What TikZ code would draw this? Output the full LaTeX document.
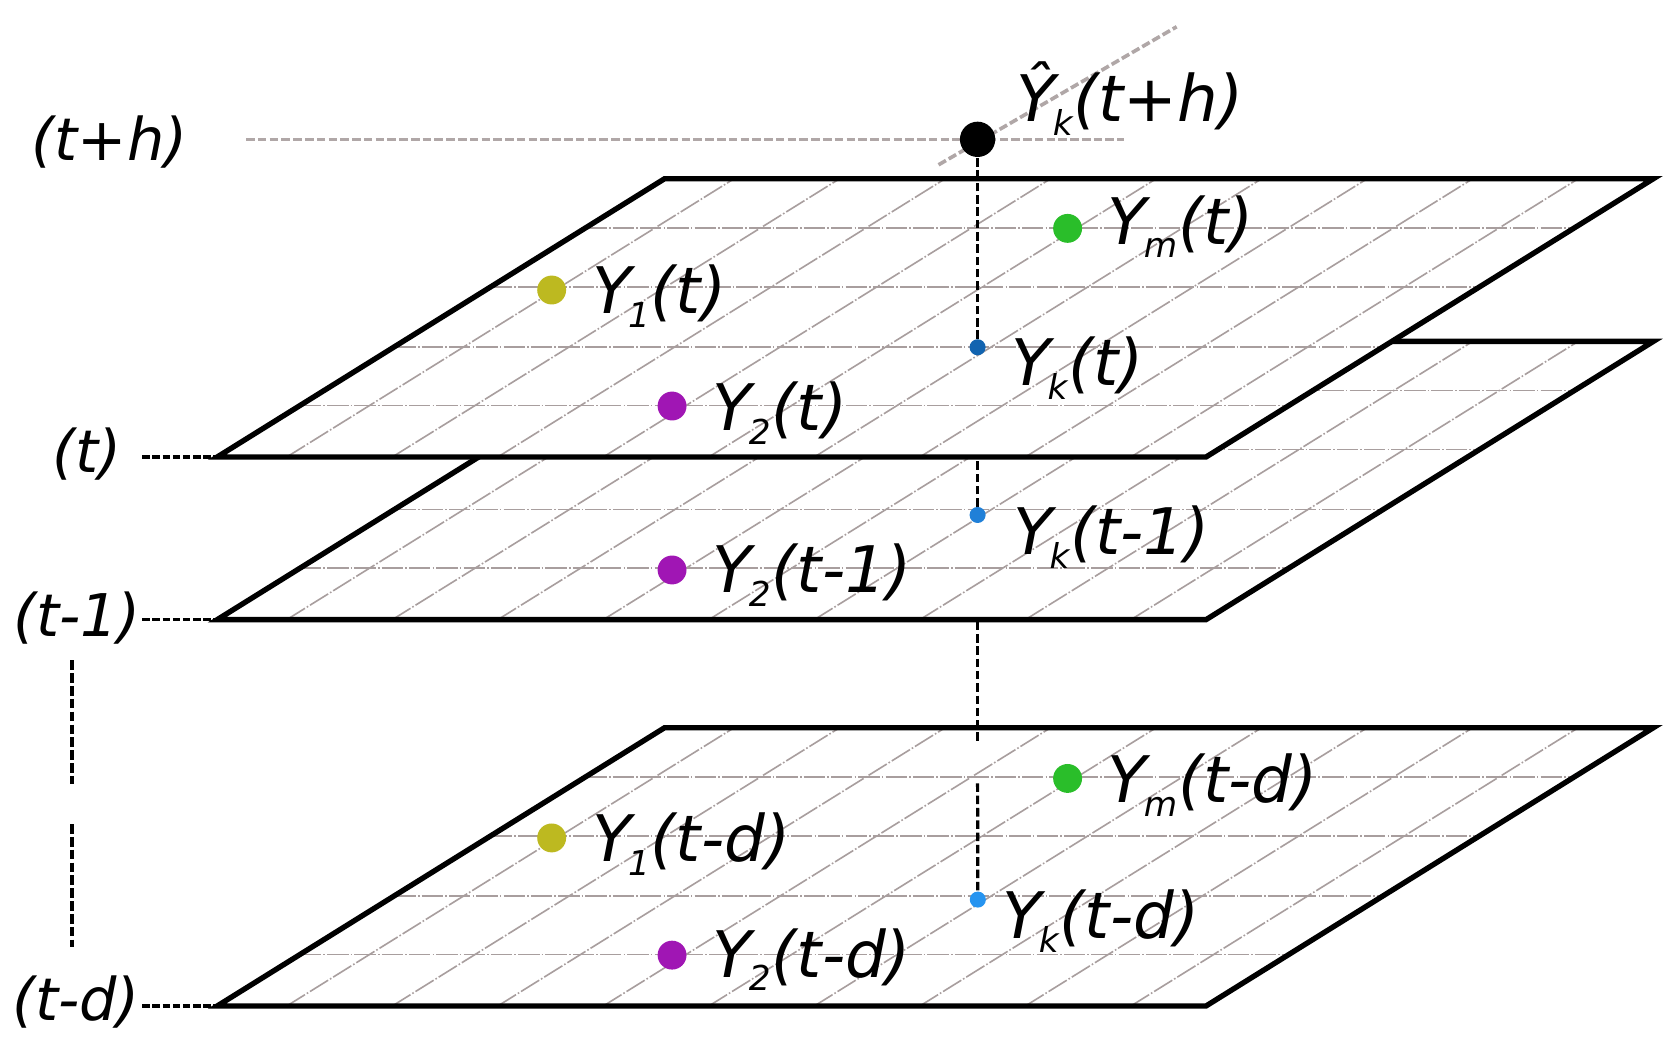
\documentclass[tikz,border=0pt]{standalone}
\usepackage{fontspec}
\setmainfont{DejaVu Sans}[ItalicFont={DejaVu Sans Oblique}]
\definecolor{hatchgray}{HTML}{A89E9E}
\definecolor{dashgray}{HTML}{B0A7A7}
\definecolor{cyone}{HTML}{BDB920}
\definecolor{cytwo}{HTML}{A016B4}
\definecolor{cym}{HTML}{2ABE2A}
\definecolor{cka}{HTML}{1264B0}
\definecolor{ckb}{HTML}{2080D8}
\definecolor{ckc}{HTML}{2694F0}
\pgfdeclarelayer{pa}\pgfdeclarelayer{pb}\pgfdeclarelayer{pc}\pgfdeclarelayer{pd}\pgfdeclarelayer{pe}
\pgfsetlayers{pa,pb,pc,pd,pe,main}
\newcommand\yl[3]{#1\kern-3pt\raisebox{-13pt}{\fontsize{32}{32}\selectfont #2}\kern1pt(#3)}
\tikzset{
  edge/.style={draw=black,line width=5pt,line join=miter},
  hatch/.style={draw=hatchgray,line width=1.5pt,dash pattern=on 20pt off 2pt on 1.5pt off 2pt},
  gdash/.style={draw=dashgray,line width=3.4pt,dash pattern=on 8pt off 3pt},
  vdash/.style={draw=black,line width=3pt,dash pattern=on 8pt off 3.5pt},
  ldash/.style={draw=black,line width=3.2pt,dash pattern=on 7pt off 2.5pt},
  lvert/.style={draw=black,line width=3.6pt,dash pattern=on 9pt off 3pt},
  dot/.style={circle,inner sep=0pt,draw=none},
  lab/.style={inner sep=0pt,font=\fontsize{60}{64}\selectfont\itshape},
  axlab/.style={inner sep=0pt,font=\fontsize{55}{60}\selectfont\itshape},
}
\newcommand\drawplane[1]{%
  \fill[white] (203,#1+260) -- (1127,#1+260) -- (1545,#1) -- (621,#1) -- cycle;
  \foreach \k in {0,...,8} {\draw[hatch] ({268+98.6*\k},#1+260) -- ++(418,-260);}
  \foreach \o in {46,101,157,212} {\draw[hatch] ({203+1.6077*(260-\o)},#1+\o) -- ++(924,0);}
  \draw[edge] (203,#1+260) -- (1127,#1+260) -- (1545,#1) -- (621,#1) -- cycle;
}
\begin{document}
\begin{tikzpicture}[x=1pt,y=-1pt]
\useasboundingbox (0,0) rectangle (1568,975);
% dots
\node[dot,fill=black,minimum size=33pt] (yh) at (913.5,130.2) {};
\node[dot,fill=cym,minimum size=27pt] (ymt) at (997.6,213.4) {};
\node[dot,fill=cyone,minimum size=27pt] (y1t) at (515.5,271) {};
\node[dot,fill=cka,minimum size=15pt] (ykt) at (913.5,324.5) {};
\node[dot,fill=cytwo,minimum size=27pt] (y2t) at (628,379.4) {};
\node[dot,fill=ckb,minimum size=15pt] (ykta) at (913.5,481.2) {};
\node[dot,fill=cytwo,minimum size=27pt] (y2ta) at (628,532.6) {};
\node[dot,fill=cym,minimum size=27pt] (ymtd) at (997.6,727.4) {};
\node[dot,fill=cyone,minimum size=27pt] (y1td) at (515.5,783) {};
\node[dot,fill=ckc,minimum size=15pt] (yktd) at (913.7,840.6) {};
\node[dot,fill=cytwo,minimum size=27pt] (y2td) at (628,892.5) {};
% coordinates
\coordinate (ga) at (913.5,695);
\coordinate (gb) at (913.5,732);
\coordinate (tBL) at (203,427);
\coordinate (taBL) at (203,579);
\coordinate (tdBL) at (203,940);
\coordinate (ltE) at (133,427);
\coordinate (ltaE) at (133,579);
\coordinate (ltdE) at (133,940);
\coordinate (hA) at (230,130.2);
\coordinate (hB) at (1050,130.2);
\coordinate (dA) at (877,154);
\coordinate (dB) at (1099.5,25);
\coordinate (va) at (67,617);
\coordinate (vb) at (67,733);
\coordinate (vc) at (67,770);
\coordinate (vd) at (67,885);
% layers
\begin{pgfonlayer}{pa}\drawplane{680}\end{pgfonlayer}
\begin{pgfonlayer}{pb}
  \draw[vdash] (ykta) -- (ga);
  \draw[vdash] (gb) -- (yktd);
\end{pgfonlayer}
\begin{pgfonlayer}{pc}\drawplane{319}\end{pgfonlayer}
\begin{pgfonlayer}{pd}\draw[vdash] (ykta) -- (ykt);\end{pgfonlayer}
\begin{pgfonlayer}{pe}
  \drawplane{167}
  \draw[gdash] (hA) -- (hB);
  \draw[gdash] (dA) -- (dB);
\end{pgfonlayer}
\draw[vdash] (ykt) -- (yh);
% labels
\node[lab,anchor=base west] (lh) at (950,113.7) {\yl{Ŷ}{k}{t+h}};
\node[lab,anchor=base west] (lmt) at (1035,228) {\yl{Y}{m}{t}};
\node[lab,anchor=base west] (l1t) at (553,293) {\yl{Y}{1}{t}};
\node[lab,anchor=base west] (lkt) at (945,360) {\yl{Y}{k}{t}};
\node[lab,anchor=base west] (l2t) at (666,402) {\yl{Y}{2}{t}};
\node[lab,anchor=base west] (lkta) at (947,518) {\yl{Y}{k}{t-1}};
\node[lab,anchor=base west] (l2ta) at (666,554) {\yl{Y}{2}{t-1}};
\node[lab,anchor=base west] (lmtd) at (1035,750) {\yl{Y}{m}{t-d}};
\node[lab,anchor=base west] (l1td) at (553,805) {\yl{Y}{1}{t-d}};
\node[lab,anchor=base west] (lktd) at (937,877) {\yl{Y}{k}{t-d}};
\node[lab,anchor=base west] (l2td) at (666,913) {\yl{Y}{2}{t-d}};
% left axis labels
\node[axlab] (th) at (102.5,133) {(t+h)};
\node[axlab] (tt) at (81,424.5) {(t)};
\node[axlab] (tta) at (72,577.6) {(t-1)};
\node[axlab] (ttd) at (71,936.6) {(t-d)};
\draw[ldash] (ltE) -- (tBL);
\draw[ldash] (ltaE) -- (taBL);
\draw[ldash] (ltdE) -- (tdBL);
\draw[lvert] (va) -- (vb);
\draw[lvert] (vc) -- (vd);
\end{tikzpicture}
\end{document}
